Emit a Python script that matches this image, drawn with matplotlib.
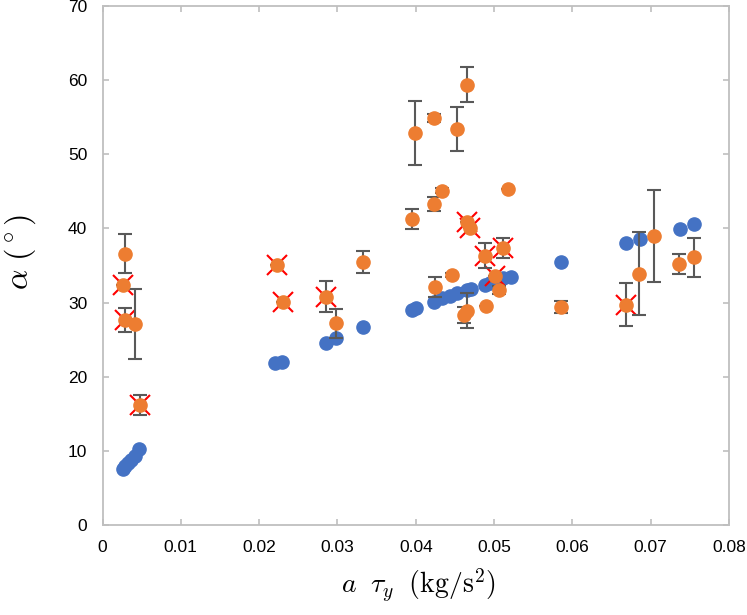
import matplotlib
matplotlib.use("Agg")
import matplotlib.pyplot as plt
import numpy as np

plt.rcParams['font.family'] = ['Liberation Sans', 'DejaVu Sans']
plt.rcParams['mathtext.fontset'] = 'cm'

# Blue series
blue_x = [0.0026, 0.0029, 0.0032, 0.0036, 0.0041, 0.0046,
          0.0220, 0.0229, 0.0285, 0.0298, 0.0333,
          0.0395, 0.0400, 0.0423, 0.0433, 0.0444, 0.0453, 0.0465, 0.0470,
          0.0489, 0.0495, 0.0504, 0.0512, 0.0522,
          0.0586, 0.0669, 0.0686, 0.0737, 0.0755]
blue_y = [7.6, 8.0, 8.4, 8.8, 9.3, 10.2,
          21.85, 22.0, 24.5, 25.2, 26.7,
          29.0, 29.3, 30.1, 30.6, 30.9, 31.3, 31.7, 31.8,
          32.4, 32.6, 33.0, 33.3, 33.5,
          35.5, 38.1, 38.6, 39.9, 40.6]

# Orange series with error bars; crossed = flagged points
orange_x = [0.00288, 0.00266, 0.00288, 0.00415, 0.0048,
            0.02234, 0.0230, 0.02856, 0.02984, 0.0333,
            0.03951, 0.03994, 0.04228, 0.04228, 0.0425, 0.04335, 0.04462,
            0.04526, 0.0461, 0.04654, 0.04654, 0.04654, 0.04696,
            0.04888, 0.0490, 0.05016, 0.0506, 0.0511, 0.05178,
            0.05855, 0.06686, 0.06856, 0.07048, 0.07367, 0.0755]
orange_y = [36.6, 32.4, 27.65, 27.1, 16.2,
            35.07, 30.1, 30.8, 27.2, 35.5,
            41.3, 52.9, 54.9, 43.3, 32.1, 45.1, 33.7,
            53.4, 28.3, 59.4, 40.8, 28.9, 40.0,
            36.3, 29.6, 33.6, 31.7, 37.3, 45.3,
            29.45, 29.7, 33.9, 39.0, 35.25, 36.1]
orange_err = [2.65, 0.0, 1.6, 4.75, 1.4,
              0.0, 0.0, 2.1, 2.0, 1.5,
              1.35, 4.3, 0.5, 0.9, 1.3, 0.3, 0.3,
              3.0, 1.1, 2.35, 0.0, 2.35, 0.0,
              1.7, 0.0, 0.0, 0.6, 1.35, 0.0,
              0.8, 2.9, 5.6, 6.25, 1.35, 2.65]
crossed = [0, 1, 1, 0, 1,
           1, 1, 1, 0, 0,
           0, 0, 0, 0, 0, 0, 0,
           0, 0, 0, 1, 0, 1,
           1, 0, 1, 0, 1, 0,
           0, 1, 0, 0, 0, 0]

x_ticks = [0, 0.01, 0.02, 0.03, 0.04, 0.05, 0.06, 0.07, 0.08]
x_ticklabels = ['0', '0.01', '0.02', '0.03', '0.04', '0.05', '0.06', '0.07', '0.08']
y_ticks = [0, 10, 20, 30, 40, 50, 60, 70]

fig = plt.figure(figsize=(7.47, 6.15), dpi=100)
ax = fig.add_axes([102.5/747, 1-525/615, (729-102.5)/747, (525-6)/615])

ox = np.array(orange_x)
oy = np.array(orange_y)
cr = np.array(crossed, dtype=bool)

ax.plot(blue_x, blue_y, 'o', color='#4472C4', markersize=9.5, zorder=2)
ax.plot(ox[cr], oy[cr], 'x', color='#FF0000', markersize=15, markeredgewidth=1.5, zorder=3)
ax.errorbar(orange_x, orange_y, yerr=orange_err, fmt='none', ecolor='#595959',
            elinewidth=1.5, capsize=5, capthick=1.5, zorder=4)
ax.plot(orange_x, orange_y, 'o', color='#ED7D31', markersize=9.5, zorder=5)

ax.set_xlim(0, 0.08)
ax.set_ylim(0, 70)
ax.set_xticks(x_ticks)
ax.set_xticklabels(x_ticklabels)
ax.set_yticks(y_ticks)

for s in ax.spines.values():
    s.set_color('#BFBFBF')
    s.set_linewidth(1.3)
ax.tick_params(direction='in', length=4, width=1.2, color='#BFBFBF',
               labelsize=12.5, labelcolor='black', top=True, right=True, pad=11)

fig.text(418/747, 1-586/615, r'$a\;\ \tau_y\;\ (\mathrm{kg/s^2})$', ha='center', va='center', fontsize=20)
fig.text(20/747, 1-252/615, r'$\alpha\ (^\circ)$', ha='center', va='center', rotation=90, fontsize=23)

fig.savefig('out.png', dpi=100)
